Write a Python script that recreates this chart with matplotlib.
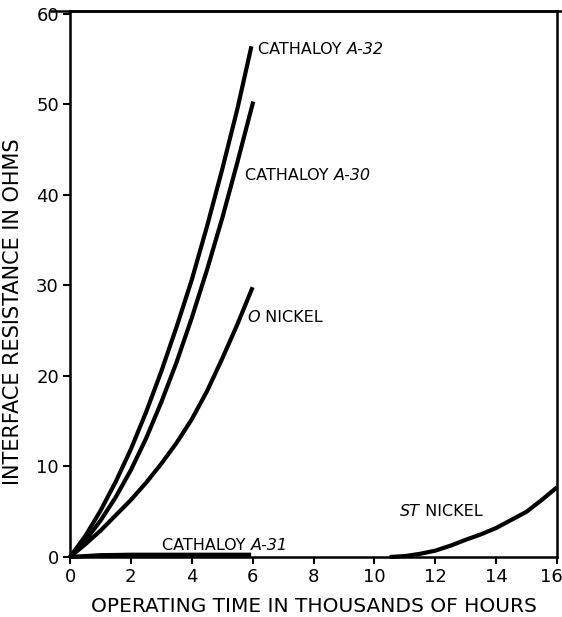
import matplotlib
matplotlib.use("Agg")
import matplotlib.pyplot as plt
import matplotlib.transforms as mtransforms

# ---- data ----
a32_x = [0, 0.5, 1.0, 1.5, 2.0, 2.5, 3.0, 3.5, 4.0, 4.5, 5.0, 5.5, 5.96]
a32_y = [0, 2.3, 5.1, 8.3, 11.9, 16.0, 20.5, 25.4, 30.6, 36.5, 42.8, 49.5, 56.4]

a30_x = [0, 0.5, 1.0, 1.5, 2.0, 2.5, 3.0, 3.5, 4.0, 4.5, 5.0, 5.5, 6.02]
a30_y = [0, 1.8, 4.0, 6.6, 9.6, 13.1, 17.1, 21.5, 26.4, 31.7, 37.4, 43.6, 50.3]

oni_x = [0, 0.5, 1.0, 1.5, 2.0, 2.5, 3.0, 3.5, 4.0, 4.5, 5.0, 5.5, 6.0]
oni_y = [0, 1.4, 2.9, 4.6, 6.3, 8.2, 10.3, 12.6, 15.2, 18.3, 21.9, 25.7, 29.8]

a31_x = [0, 1.0, 2.0, 3.0, 4.0, 5.0, 5.95]
a31_y = [0, 0.2, 0.25, 0.25, 0.25, 0.25, 0.25]

stn_x = [10.5, 11.0, 11.5, 12.0, 12.5, 13.0, 13.5, 14.0, 14.5, 15.0, 15.5, 16.0]
stn_y = [0.0, 0.1, 0.35, 0.7, 1.25, 1.9, 2.5, 3.2, 4.1, 5.0, 6.3, 7.7]

xticks = [0, 2, 4, 6, 8, 10, 12, 14, 16]
yticks = [0, 10, 20, 30, 40, 50, 60]

W, H = 562, 617
fig = plt.figure(figsize=(W / 100, H / 100), dpi=100)
ax = fig.add_axes([70 / W, 1 - 557 / H, (557 - 70) / W, (557 - 11) / H])

lw = 3.0
for xs, ys in [(a32_x, a32_y), (a30_x, a30_y), (oni_x, oni_y), (a31_x, a31_y), (stn_x, stn_y)]:
    ax.plot(xs, ys, color="black", lw=lw, solid_capstyle="butt",
            solid_joinstyle="round", clip_on=False)

ax.set_xlim(0, 16)
ax.set_ylim(0, 60.3)
ax.set_xticks(xticks)
ax.set_yticks(yticks)
ax.set_xticklabels([str(t) for t in xticks], fontsize=13)
ax.set_yticklabels([str(t) for t in yticks], fontsize=13)
ax.tick_params(axis="both", direction="out", length=5, width=1.5, pad=3)
for s in ax.spines.values():
    s.set_linewidth(1.8)

# nudge the last x tick label so it stays inside the figure
lab16 = ax.get_xticklabels()[-1]
lab16.set_transform(lab16.get_transform() +
                    mtransforms.ScaledTranslation(-6 / 100, 0, fig.dpi_scale_trans))

# extended top line
ax.plot([-0.04, 1.01], [1.0, 1.0], transform=ax.transAxes, color="black", lw=1.8, clip_on=False)

ax.set_xlabel("OPERATING TIME IN THOUSANDS OF HOURS", fontsize=14.5, labelpad=8)
ax.set_ylabel("INTERFACE RESISTANCE IN OHMS", fontsize=15)
ax.yaxis.set_label_coords(-0.097, 0.45)

fig.canvas.draw()
renderer = fig.canvas.get_renderer()


def mixed(xpix, ypix, parts, fs=11.5):
    """Place text segments (text, italic) starting at pixel coords (from top-left)."""
    x = xpix
    for txt, it in parts:
        t = fig.text(x / W, 1 - ypix / H, txt, fontsize=fs,
                     style="italic" if it else "normal", va="center", ha="left")
        bb = t.get_window_extent(renderer)
        x += bb.width


mixed(258, 50, [("CATHALOY ", False), ("A-32", True)])
mixed(245, 176, [("CATHALOY ", False), ("A-30", True)])
mixed(247, 317, [("O", True), (" NICKEL", False)])
mixed(162, 545, [("CATHALOY ", False), ("A-31", True)])
mixed(400, 512, [("ST", True), (" NICKEL", False)])

fig.savefig("out.png", dpi=100)
